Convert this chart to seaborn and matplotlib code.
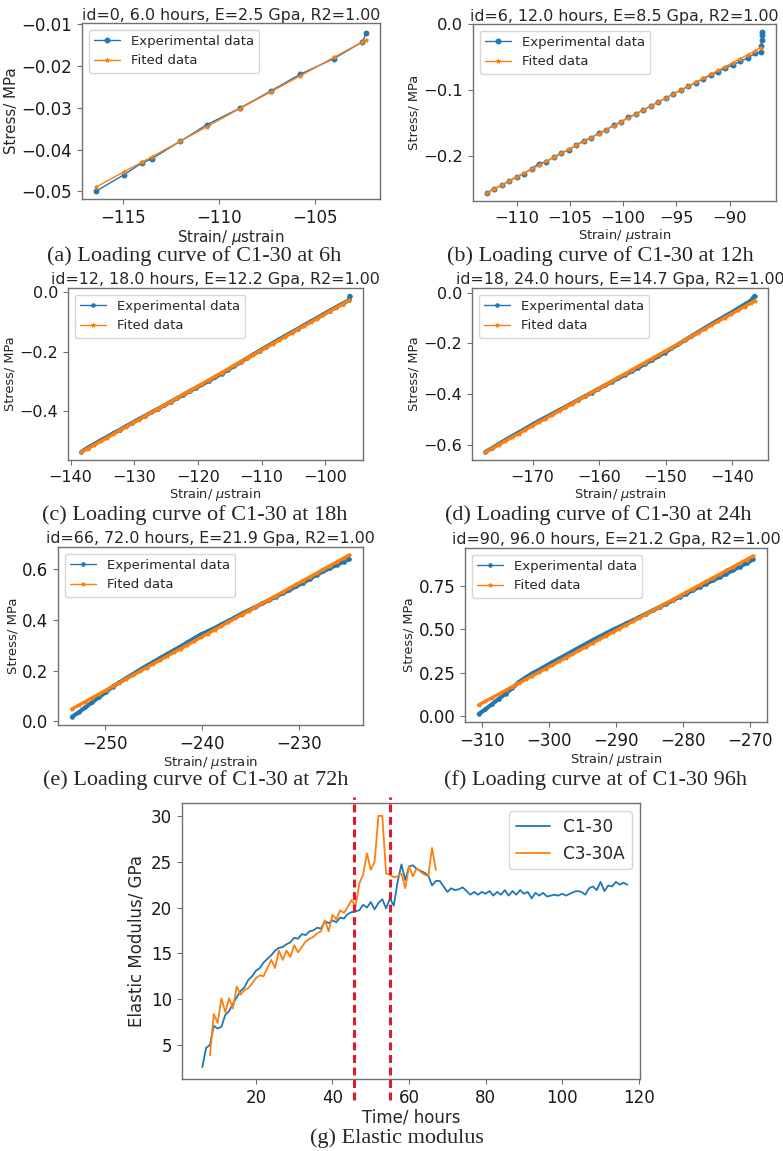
import numpy as np
import pandas as pd

import seaborn as sns
import matplotlib.pyplot as plt
from matplotlib.ticker import MultipleLocator

sns.set_style("ticks")
plt.rcParams["font.family"] = ["DejaVu Sans"]
plt.rcParams["mathtext.fontset"] = "dejavusans"

W, H = 783, 1151
DPI = 100
BLUE = "#1f77b4"
ORANGE = "#ff7f0e"
FRAME = "#707070"

# ---------------- (a) 6h ----------------
a_strain = [-116.45, -114.97, -114.04, -113.52, -112.04, -110.64, -108.94,
            -107.33, -105.80, -104.02, -102.54, -102.33]
a_exp = [-0.0500, -0.0460, -0.0432, -0.0422, -0.0380, -0.0340, -0.0301,
         -0.0260, -0.0220, -0.0182, -0.0142, -0.0120]
a_fit = [-0.0490, -0.0453, -0.0430, -0.0417, -0.0380, -0.0345, -0.0302,
         -0.0262, -0.0224, -0.0179, -0.0142, -0.0137]

# ---------------- (b) 12h ----------------
b_strain_fit = [-112.8, -112.1, -111.4, -110.7, -110.0, -109.3, -108.6, -107.9,
                -107.2, -106.5, -105.8, -105.1, -104.4, -103.7, -103.0, -102.3,
                -101.6, -100.9, -100.2, -99.5, -98.8, -98.1, -97.4, -96.7,
                -96.0, -95.3, -94.6, -93.9, -93.2, -92.5, -91.8, -91.1,
                -90.4, -89.7, -89.0, -88.3, -87.6, -87.1]
b_fit = [-0.2555, -0.2495, -0.2435, -0.2376, -0.2316, -0.2256, -0.2196, -0.2136,
         -0.2076, -0.2016, -0.1956, -0.1896, -0.1836, -0.1776, -0.1716, -0.1657,
         -0.1597, -0.1537, -0.1477, -0.1417, -0.1357, -0.1297, -0.1237, -0.1177,
         -0.1117, -0.1057, -0.0997, -0.0937, -0.0878, -0.0818, -0.0758, -0.0698,
         -0.0638, -0.0578, -0.0518, -0.0458, -0.0398, -0.0355]
b_strain_exp = b_strain_fit + [-87.05, -87.0, -86.97, -86.95]
b_exp = [-0.2557, -0.2490, -0.2440, -0.2372, -0.2310, -0.2262, -0.2190, -0.2110,
         -0.2080, -0.2012, -0.1950, -0.1902, -0.1830, -0.1762, -0.1720, -0.1652,
         -0.1600, -0.1530, -0.1478, -0.1410, -0.1360, -0.1292, -0.1240, -0.1172,
         -0.1120, -0.1050, -0.1000, -0.0935, -0.0885, -0.0825, -0.0770, -0.0715,
         -0.0660, -0.0612, -0.0560, -0.0505, -0.0440, -0.0420,
         -0.0330, -0.0230, -0.0160, -0.0115]

# ---------------- (c) 18h ----------------
c_strain_fit = [-138.3, -137.3, -136.3, -135.3, -134.3, -133.3, -132.3, -131.3,
                -130.3, -129.3, -128.3, -127.3, -126.3, -125.3, -124.3, -123.3,
                -122.3, -121.3, -120.3, -119.3, -118.3, -117.3, -116.3, -115.3,
                -114.3, -113.3, -112.3, -111.3, -110.3, -109.3, -108.3, -107.3,
                -106.3, -105.3, -104.3, -103.3, -102.3, -101.3, -100.3, -99.3,
                -98.3, -97.3, -96.3]
c_fit = [-0.5370, -0.5249, -0.5127, -0.5006, -0.4885, -0.4764, -0.4642, -0.4521,
         -0.4400, -0.4278, -0.4157, -0.4036, -0.3914, -0.3793, -0.3672, -0.3551,
         -0.3429, -0.3308, -0.3187, -0.3065, -0.2944, -0.2823, -0.2701, -0.2580,
         -0.2459, -0.2338, -0.2216, -0.2095, -0.1974, -0.1852, -0.1731, -0.1610,
         -0.1488, -0.1367, -0.1246, -0.1125, -0.1003, -0.0882, -0.0761, -0.0639,
         -0.0518, -0.0397, -0.0275]
c_strain_exp = c_strain_fit + [-96.25, -96.2]
c_exp = [-0.5360, -0.5220, -0.5100, -0.4975, -0.4860, -0.4735, -0.4625, -0.4500,
         -0.4385, -0.4262, -0.4150, -0.4030, -0.3915, -0.3800, -0.3680, -0.3560,
         -0.3445, -0.3320, -0.3205, -0.3095, -0.2975, -0.2850, -0.2735, -0.2605,
         -0.2475, -0.2345, -0.2215, -0.2090, -0.1960, -0.1835, -0.1710, -0.1585,
         -0.1465, -0.1345, -0.1225, -0.1100, -0.0980, -0.0860, -0.0740, -0.0615,
         -0.0500, -0.0380, -0.0270, -0.0180, -0.0120]

# ---------------- (d) 24h ----------------
d_strain = [-177.1, -176.1, -175.1, -174.1, -173.1, -172.1, -171.1, -170.1,
            -169.1, -168.1, -167.1, -166.1, -165.1, -164.1, -163.1, -162.1,
            -161.1, -160.1, -159.1, -158.1, -157.1, -156.1, -155.1, -154.1,
            -153.1, -152.1, -151.1, -150.1, -149.1, -148.1, -147.1, -146.1,
            -145.1, -144.1, -143.1, -142.1, -141.1, -140.1, -139.1, -138.1,
            -137.1, -136.6]
d_fit = [-0.6280, -0.6133, -0.5986, -0.5839, -0.5692, -0.5546, -0.5399, -0.5252,
         -0.5105, -0.4958, -0.4811, -0.4664, -0.4517, -0.4370, -0.4223, -0.4077,
         -0.3930, -0.3783, -0.3636, -0.3489, -0.3342, -0.3195, -0.3048, -0.2901,
         -0.2754, -0.2608, -0.2461, -0.2314, -0.2167, -0.2020, -0.1873, -0.1726,
         -0.1579, -0.1432, -0.1285, -0.1139, -0.0992, -0.0845, -0.0698, -0.0551,
         -0.0404, -0.0330]
d_exp = [-0.6270, -0.6120, -0.5960, -0.5800, -0.5650, -0.5505, -0.5355, -0.5205,
         -0.5060, -0.4920, -0.4780, -0.4640, -0.4500, -0.4360, -0.4215, -0.4075,
         -0.3935, -0.3790, -0.3650, -0.3510, -0.3375, -0.3235, -0.3095, -0.2955,
         -0.2810, -0.2660, -0.2510, -0.2360, -0.2200, -0.2040, -0.1875, -0.1720,
         -0.1560, -0.1400, -0.1245, -0.1090, -0.0940, -0.0790, -0.0630, -0.0470,
         -0.0310, -0.0130]

# ---------------- (e) 72h ----------------
e_strain = [-253.4, -252.7, -252.0, -251.3, -250.6, -249.9, -249.2, -248.5,
            -247.8, -247.1, -246.4, -245.7, -245.0, -244.3, -243.6, -242.9,
            -242.2, -241.5, -240.8, -240.1, -239.4, -238.7, -238.0, -237.3,
            -236.6, -235.9, -235.2, -234.5, -233.8, -233.1, -232.4, -231.7,
            -231.0, -230.3, -229.6, -228.9, -228.2, -227.5, -226.8, -226.1,
            -225.4, -224.85]
e_fit = [0.0480, 0.0629, 0.0778, 0.0927, 0.1076, 0.1226, 0.1375, 0.1524,
         0.1673, 0.1822, 0.1971, 0.2120, 0.2269, 0.2418, 0.2567, 0.2717,
         0.2866, 0.3015, 0.3164, 0.3313, 0.3462, 0.3611, 0.3760, 0.3909,
         0.4058, 0.4208, 0.4357, 0.4506, 0.4655, 0.4804, 0.4953, 0.5102,
         0.5251, 0.5400, 0.5549, 0.5699, 0.5848, 0.5997, 0.6146, 0.6295,
         0.6444, 0.6560]
e_exp = [0.017, 0.035, 0.055, 0.075, 0.095, 0.115, 0.137, 0.153,
         0.170, 0.186, 0.203, 0.219, 0.234, 0.250, 0.265, 0.280,
         0.295, 0.311, 0.327, 0.343, 0.355, 0.368, 0.382, 0.396,
         0.410, 0.425, 0.438, 0.451, 0.465, 0.478, 0.492, 0.505,
         0.518, 0.533, 0.546, 0.562, 0.578, 0.592, 0.605, 0.618,
         0.630, 0.640]

# ---------------- (f) 96h ----------------
f_strain = [-310.5, -309.5, -308.5, -307.5, -306.5, -305.5, -304.5, -303.5,
            -302.5, -301.5, -300.5, -299.5, -298.5, -297.5, -296.5, -295.5,
            -294.5, -293.5, -292.5, -291.5, -290.5, -289.5, -288.5, -287.5,
            -286.5, -285.5, -284.5, -283.5, -282.5, -281.5, -280.5, -279.5,
            -278.5, -277.5, -276.5, -275.5, -274.5, -273.5, -272.5, -271.5,
            -270.5, -269.5]
f_fit = [0.0630, 0.0840, 0.1050, 0.1261, 0.1471, 0.1681, 0.1891, 0.2101,
         0.2312, 0.2522, 0.2732, 0.2942, 0.3152, 0.3363, 0.3573, 0.3783,
         0.3993, 0.4203, 0.4414, 0.4624, 0.4834, 0.5044, 0.5254, 0.5465,
         0.5675, 0.5885, 0.6095, 0.6305, 0.6516, 0.6726, 0.6936, 0.7146,
         0.7356, 0.7567, 0.7777, 0.7987, 0.8197, 0.8407, 0.8618, 0.8828,
         0.9038, 0.9248]
f_exp = [0.010, 0.038, 0.068, 0.098, 0.128, 0.160, 0.195, 0.222,
         0.245, 0.266, 0.288, 0.310, 0.331, 0.352, 0.373, 0.395,
         0.416, 0.437, 0.457, 0.477, 0.497, 0.515, 0.534, 0.552,
         0.571, 0.590, 0.610, 0.629, 0.648, 0.668, 0.688, 0.707,
         0.727, 0.746, 0.765, 0.784, 0.803, 0.823, 0.843, 0.863,
         0.883, 0.905]

# ---------------- (g) elastic modulus ----------------
c1_hours = list(range(6, 118))
c1_modulus = [2.6, 4.7, 5.0, 7.1, 6.8, 7.0, 8.3, 8.7, 9.5, 10.2,
              10.9, 11.3, 12.1, 12.5, 13.1, 13.4, 14.0, 14.4, 14.8, 15.3,
              15.6, 15.7, 16.0, 16.2, 16.7, 16.6, 17.1, 17.0, 17.4, 17.5,
              17.8, 17.7, 18.5, 18.3, 18.6, 18.4, 18.9, 18.8, 19.3, 19.5,
              19.6, 19.7, 20.3, 20.0, 20.6, 19.8, 20.5, 20.9, 19.9, 21.0,
              20.2, 22.8, 24.7, 23.0, 24.5, 24.6, 24.2, 24.0, 23.8, 23.5,
              22.4, 22.9, 22.9, 22.3, 21.7, 22.1, 21.9, 22.0, 22.2, 21.8,
              21.4, 21.7, 21.4, 21.7, 21.5, 21.8, 21.3, 21.7, 21.4, 21.9,
              21.3, 21.8, 21.4, 21.9, 21.5, 21.7, 21.0, 21.6, 21.3, 21.6,
              21.2, 21.3, 21.4, 21.3, 21.5, 21.3, 21.5, 21.7, 21.8, 21.7,
              21.4, 22.1, 22.3, 21.9, 22.8, 21.8, 22.4, 22.3, 22.8, 22.5,
              22.7, 22.5]
c3_hours = list(range(8, 68))
c3_modulus = [3.9, 8.4, 7.4, 10.1, 8.6, 10.1, 9.0, 11.4, 10.5, 11.0,
              11.2, 11.7, 12.3, 12.6, 12.5, 13.4, 14.3, 13.4, 15.3, 14.3,
              15.3, 14.6, 15.9, 15.1, 15.7, 16.3, 16.6, 16.8, 17.2, 17.4,
              18.6, 17.4, 19.2, 18.7, 19.7, 19.4, 20.1, 20.8, 20.1, 22.6,
              23.6, 25.9, 24.1, 25.0, 30.0, 30.0, 23.7, 23.6, 23.3, 23.4,
              23.7, 22.1, 24.5, 23.4, 24.3, 23.9, 23.6, 23.4, 26.5, 24.1]
stage_bounds = [45.7, 55.1]

panels = [
    dict(xe=a_strain, ye=a_exp, xf=a_strain, yf=a_fit,
         title="id=0, 6.0 hours, E=2.5 Gpa, R2=1.00", ylim=(-0.0518, -0.0097),
         box=(82, 23, 380, 199), steps=(5, 0.01), tick=12, lab=10.8, pad=1.5,
         dense=False, cap="(a) Loading curve of C1-30 at 6h", cpos=(194, 261)),
    dict(xe=b_strain_exp, ye=b_exp, xf=b_strain_fit, yf=b_fit,
         title="id=6, 12.0 hours, E=8.5 Gpa, R2=1.00", ylim=None,
         box=(473, 24, 776, 201), steps=(5, 0.1), tick=11.8, lab=9.4, pad=1.5,
         dense=False, cap="(b) Loading curve of C1-30 at 12h", cpos=(600, 261)),
    dict(xe=c_strain_exp, ye=c_exp, xf=c_strain_fit, yf=c_fit,
         title="id=12, 18.0 hours, E=12.2 Gpa, R2=1.00", ylim=None,
         box=(68, 288, 363, 460), steps=(10, 0.2), tick=11.5, lab=9.3, pad=3,
         dense=True, cap="(c) Loading curve of C1-30 at 18h", cpos=(195, 520)),
    dict(xe=d_strain, ye=d_exp, xf=d_strain, yf=d_fit,
         title="id=18, 24.0 hours, E=14.7 Gpa, R2=1.00", ylim=None,
         box=(472, 288, 768, 460), steps=(10, 0.2), tick=11.5, lab=9.3, pad=3,
         dense=True, cap="(d) Loading curve of C1-30 at 24h", cpos=(598, 520)),
    dict(xe=e_strain, ye=e_exp, xf=e_strain, yf=e_fit,
         title="id=66, 72.0 hours, E=21.9 Gpa, R2=1.00", ylim=None,
         box=(58, 547, 363, 725), steps=(10, 0.2), tick=12, lab=9.5, pad=3,
         dense=True, cap="(e) Loading curve of C1-30 at 72h", cpos=(196, 785)),
    dict(xe=f_strain, ye=f_exp, xf=f_strain, yf=f_fit,
         title="id=90, 96.0 hours, E=21.2 Gpa, R2=1.00", ylim=None,
         box=(465, 548, 767, 722), steps=(10, 0.25), tick=12, lab=9.3, pad=3,
         dense=True, cap="(f) Loading curve at of C1-30 96h", cpos=(596, 785)),
]


def px_axes(fig, box):
    x0, y0, x1, y1 = box
    return fig.add_axes([x0 / W, 1 - y1 / H, (x1 - x0) / W, (y1 - y0) / H])


def style_frame(ax, tick_size):
    for sp in ax.spines.values():
        sp.set_color(FRAME)
        sp.set_linewidth(1.0)
    ax.tick_params(colors="#1a1a1a", labelsize=tick_size, length=3.5,
                   width=0.8, direction="out")
    ax.tick_params(color=FRAME)


fig = plt.figure(figsize=(W / DPI, H / DPI), dpi=DPI)

for p in panels:
    ax = px_axes(fig, p["box"])
    if p["dense"]:
        lw_e, lw_f, ms_e, ms_f = 3.0, 2.4, 5, 3
    else:
        lw_e, lw_f, ms_e, ms_f = 1.0, 1.0, 7, 3
    sns.lineplot(x=p["xe"], y=p["ye"], ax=ax, color=BLUE, marker=".", ms=ms_e,
                 mec=BLUE, lw=lw_e, sort=False, estimator=None,
                 label="Experimental data")
    sns.lineplot(x=p["xf"], y=p["yf"], ax=ax, color=ORANGE, marker="*", ms=ms_f,
                 mec=ORANGE, lw=lw_f, sort=False, estimator=None,
                 label="Fited data")
    if p["ylim"] is not None:
        ax.set_ylim(*p["ylim"])
    ax.xaxis.set_major_locator(MultipleLocator(p["steps"][0]))
    ax.yaxis.set_major_locator(MultipleLocator(p["steps"][1]))
    ax.set_title(p["title"], fontsize=11.4, pad=p["pad"])
    ax.set_xlabel("Strain/ $\\mu$strain", fontsize=p["lab"], labelpad=1)
    ax.set_ylabel("Stress/ MPa", fontsize=p["lab"], labelpad=2)
    style_frame(ax, p["tick"])
    leg = ax.legend(loc="upper left", fontsize=9.5, framealpha=0.8)
    for line in leg.get_lines():
        line.set_linewidth(1.0)
    fig.text(p["cpos"][0] / W, 1 - p["cpos"][1] / H, p["cap"], ha="center",
             va="baseline", fontsize=16, family=["Liberation Serif", "DejaVu Serif"])

# elastic modulus panel
axg = px_axes(fig, (182, 803, 640, 1079))
sns.lineplot(x=c1_hours, y=c1_modulus, ax=axg, color=BLUE, lw=1.3,
             estimator=None, label="C1-30")
sns.lineplot(x=c3_hours, y=c3_modulus, ax=axg, color=ORANGE, lw=1.3,
             estimator=None, label="C3-30A")
for b in stage_bounds:
    axg.axvline(b, ymin=-0.076, ymax=1.022, color="#dc1c2c", lw=2.2,
                ls=(0, (2.6, 1.5)), clip_on=False, zorder=5)
axg.set_ylim(1.3, 31.4)
axg.xaxis.set_major_locator(MultipleLocator(20))
axg.yaxis.set_major_locator(MultipleLocator(5))
axg.set_xlim(0.7, 120.3)
axg.set_xlabel("Time/ hours", fontsize=12, labelpad=1)
axg.set_ylabel("Elastic Modulus/ GPa", fontsize=12, labelpad=4)
style_frame(axg, 12)
axg.legend(loc="upper right", fontsize=12.2, framealpha=0.8)
fig.text(397 / W, 1 - 1143 / H, "(g) Elastic modulus", ha="center",
         va="baseline", fontsize=16, family=["Liberation Serif", "DejaVu Serif"])

fig.savefig("out.png", dpi=DPI)
